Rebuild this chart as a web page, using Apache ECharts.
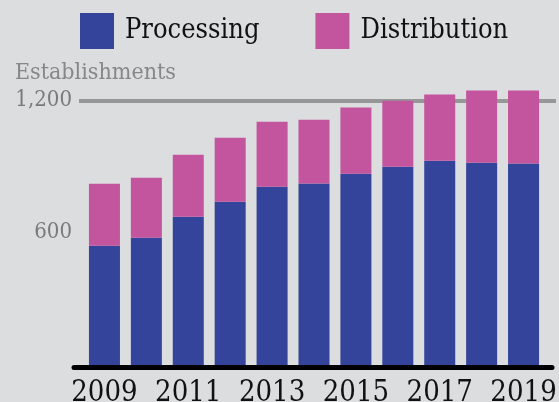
<!DOCTYPE html>
<html>
<head>
<meta charset="utf-8">
<script src="https://cdn.jsdelivr.net/npm/echarts@6/dist/echarts.min.js"></script>
<style>
html,body{margin:0;padding:0;background:#dcdddf;}
#chart{width:559px;height:402px;}
</style>
</head>
<body>
<div id="chart"></div>
<script>
var years = ['2009','2010','2011','2012','2013','2014','2015','2016','2017','2018','2019'];
var processing = [541, 577, 673, 741, 809, 823, 868, 900, 927, 918, 914];
var distribution = [281, 273, 281, 290, 295, 290, 300, 299, 300, 327, 331];
var yTicks = [0, 600, 1200];
var axisTitle = 'Establishments';

var FONT = "'DejaVu Serif Condensed', 'DejaVu Serif', serif";
var chart = echarts.init(document.getElementById('chart'), null, {renderer: 'canvas'});
chart.setOption({
  backgroundColor: '#dcdddf',
  animation: false,
  title: {
    text: axisTitle, left: 15, top: 62, padding: 0,
    textStyle: {fontFamily: FONT, fontSize: 23, fontWeight: 'normal', color: '#878787'}
  },
  legend: {
    left: 80, top: 13, padding: 0,
    itemWidth: 34, itemHeight: 36, itemGap: 56, icon: 'rect',
    data: ['Processing', 'Distribution'],
    textStyle: {fontFamily: FONT, fontSize: 27, color: '#111111', padding: [0, 0, 0, 6]}
  },
  grid: [
    {left: 79, right: 3, top: 100.5, bottom: 37, outerBoundsMode: 'none', containLabel: false},
    {left: 83.5, right: 14.5, top: 100.5, bottom: 37, outerBoundsMode: 'none', containLabel: false},
    {left: 74, right: 7, top: 100.5, bottom: 35.2, outerBoundsMode: 'none', containLabel: false}
  ],
  xAxis: [
    {gridIndex: 0, type: 'category', data: years, show: false},
    {gridIndex: 1, type: 'category', data: years,
      axisLine: {show: false}, axisTick: {show: false},
      axisLabel: {interval: 1, margin: 14, fontFamily: FONT, fontSize: 29, color: '#111111'}},
    {gridIndex: 2, type: 'category', data: years,
      axisLine: {show: true, lineStyle: {color: '#000000', width: 5}},
      axisTick: {show: false}, axisLabel: {show: false}}
  ],
  yAxis: [
    {gridIndex: 0, type: 'value', min: yTicks[0], max: yTicks[yTicks.length - 1], interval: yTicks[1] - yTicks[0],
      axisLine: {show: false}, axisTick: {show: false},
      axisLabel: {margin: 7, fontFamily: FONT, fontSize: 22, color: '#7a7a7a',
        formatter: function (v) { return v === 0 ? '' : echarts.format.addCommas(v); }},
      splitLine: {show: true, showMinLine: false, lineStyle: {color: ['rgba(0,0,0,0)', '#979797', '#979797'], width: 4}}},
    {gridIndex: 1, type: 'value', min: 0, max: 1200, show: false, splitLine: {show: false}},
    {gridIndex: 2, type: 'value', min: 0, max: 1200, show: false, splitLine: {show: false}}
  ],
  series: [
    {name: 'Processing', type: 'bar', stack: 'total', xAxisIndex: 1, yAxisIndex: 1, clip: false,
      data: processing, barCategoryGap: '26%', itemStyle: {color: '#34449b'}},
    {name: 'Distribution', type: 'bar', stack: 'total', xAxisIndex: 1, yAxisIndex: 1, clip: false,
      data: distribution, barCategoryGap: '26%', itemStyle: {color: '#c3549e'}}
  ]
});
</script>
</body>
</html>
